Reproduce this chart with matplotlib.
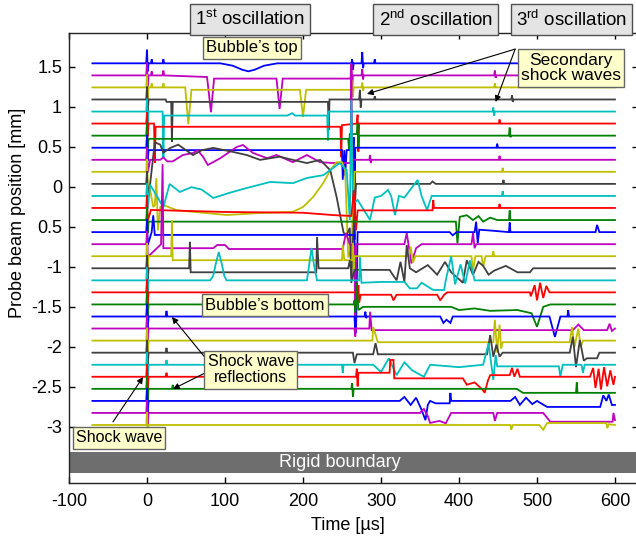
import matplotlib
matplotlib.use("Agg")
import matplotlib.pyplot as plt

plt.rcParams["font.family"] = ["Liberation Sans", "DejaVu Sans"]
plt.rcParams["mathtext.default"] = "regular"
plt.rcParams["axes.unicode_minus"] = False

# baseline of each probe beam [mm], top to bottom
BASE = [1.542, 1.391, 1.241, 1.090, 0.939, 0.789, 0.638, 0.487, 0.336, 0.186,
        0.035, -0.116, -0.266, -0.417, -0.568, -0.719, -0.869, -1.020, -1.171,
        -1.321, -1.472, -1.623, -1.773, -1.924, -2.075, -2.226, -2.376, -2.527,
        -2.678, -2.828, -2.979]
COLORS = ["#0000ff", "#bf00bf", "#bfbf00", "#404040", "#00bfbf", "#ff0000", "#008000"]

# (time [us], deflection from baseline [mm])
T00 = [(-70, 0), (-1, 0), (0, .17), (1, -.1), (2, 0), (5, 0), (6, .05), (7, 0), (20, 0), (21, .05), (22, 0),
       (94, 0), (110, -.03), (122, -.08), (130, -.1), (138, -.08), (150, -.03), (167, 0), (262, 0),
       (263, .05), (264, -.08), (265, 0), (275, 0), (276, .14), (277, -.06), (278, 0), (291, 0),
       (292, .05), (293, 0), (600, 0)]
T01 = [(-70, 0), (-1, 0), (0, .16), (1, -.16), (2, 0), (5, 0), (6, .05), (7, 0), (20, 0), (21, .06), (22, 0),
       (77, -.02), (82, -.46), (86, -.04), (166, -.04), (170, -.42), (174, -.04), (261, -.04), (262, .15),
       (263, -.16), (264, 0), (275, 0), (276, .08), (277, -.05), (278, 0), (445, 0), (446, .06),
       (447, -.03), (448, 0), (600, 0)]
T02 = [(-70, 0), (-1, 0), (0, .16), (1, -.16), (2, 0), (5, 0), (6, .05), (7, 0), (20, 0), (21, .05), (22, 0),
       (49, 0), (53, -.46), (57, -.03), (196, -.03), (200, -.37), (204, -.03), (262, -.03), (263, .09),
       (264, -.12), (265, 0), (275, 0), (276, .06), (277, -.04), (278, 0), (445, 0), (446, .05),
       (447, 0), (600, 0)]
T03 = [(-70, 0), (-1, 0), (0, .16), (1, -.16), (2, 0), (24, 0), (25, -.03), (31, -.03), (32, -.53),
       (33, -.03), (232, -.03), (233, -.38), (234, 0), (272, 0), (273, .12), (274, -.1), (275, 0),
       (291, 0), (292, .04), (293, 0), (467, 0), (468, .05), (469, -.03), (470, 0), (600, 0)]
T04 = [(-70, 0), (-1, 0), (0, .16), (1, -.16), (2, 0), (20, 0), (21, -.58), (22, -.05), (180, -.05),
       (186, -.02), (190, -.05), (231, -.05), (232, -.36), (233, 0), (443, 0), (444, .05), (445, -.05),
       (446, 0), (600, 0)]
T05 = [(-70, 0), (-1, 0), (0, .14), (1, -.16), (2, 0), (9, 0), (10, -.49), (11, -.04), (248, -.04),
       (249, -.42), (250, -.02), (269, 0), (270, .11), (271, -.35), (272, 0), (451, 0), (452, .05),
       (453, 0), (600, 0)]
T06 = [(-70, 0), (-1, 0), (0, .16), (1, -.16), (2, -.04), (258, -.04), (259, -.18), (260, .02),
       (269, .02), (270, .15), (271, -.14), (272, 0), (464, 0), (465, .1), (466, -.02), (467, 0), (600, 0)]
T07 = [(-70, 0), (-1, 0), (0, .16), (1, -.16), (2, -.03), (250, -.03), (251, -.4), (253, -.03),
       (254, -.35), (256, -.03), (264, -.03), (265, .13), (266, -1.15), (267, 0), (448, 0), (449, .05),
       (450, 0), (600, 0)]
T08 = [(-70, 0), (-1, 0), (0, .16), (1, -.16), (4, 0), (17, 0), (21, .03), (26, -.02), (33, -.02),
       (46, .06), (59, .085), (65, .12), (72, .035), (78, -.065), (94, .02), (115, .16), (123, .185),
       (136, .085), (154, .02), (166, .06), (187, -.03), (205, .06), (222, -.03), (238, -.04), (261, -.04),
       (262, 1.2), (263, 0), (285, 0), (286, .06), (287, -.04), (288, 0), (451, 0), (452, .05), (453, 0),
       (600, 0)]
T09 = [(-70, 0), (-1, 0), (0, .16), (1, -.16), (4, -.23), (8, -.44), (10, -.42), (12, -.08), (14, -.73),
       (17, -.44), (21, -.415), (38, -.48), (59, -.5), (102, -.54), (145, -.515), (187, -.5), (200, -.44),
       (213, -.315), (226, -.14), (235, .02), (243, .12), (250, .12), (254, .02), (258, -1.07),
       (262, -.97), (266, 0), (455, 0), (456, .05), (457, 0), (600, 0)]
T10 = [(-70, 0), (-1, 0), (0, .16), (1, -.16), (4, 0), (10, .52), (17, .49), (21, .39), (30, .45),
       (40, .49), (59, .36), (70, .42), (85, .45), (110, .4), (128, .36), (145, .3), (170, .34), (187, .3),
       (205, .26), (222, .3), (235, .17), (243, -.16), (252, -.61), (256, -.64), (260, -.55), (262, -1.24),
       (264, -.7), (268, 0), (363, 0), (366, .03), (370, 0), (456, 0), (457, .05), (458, 0), (600, 0)]
T11 = [(-70, 0), (-1, 0), (0, .16), (1, -.16), (4, .14), (21, -.14), (29, .15), (42, .05), (57, .11),
       (70, .08), (85, -.025), (106, .04), (128, .1), (158, .175), (187, .16), (205, .225), (226, .26),
       (247, .41), (256, .325), (260, -.3), (262, 1.2), (264, -.1), (270, -.05), (286, -.3), (292, -.02),
       (300, 0), (309, .075), (313, 0), (318, -.24), (323, 0), (330, -.02), (347, .2), (352, 0),
       (359, -.175), (365, 0), (455, 0), (456, .06), (457, 0), (600, 0)]
T12 = [(-70, 0), (-1, 0), (0, .16), (1, -.16), (5, -.025), (100, -.05), (200, -.06), (240, -.09),
       (262, -.1), (265, .22), (268, -.28), (270, -.03), (366, -.03), (367, .1), (368, 0), (451, 0),
       (452, .05), (453, 0), (600, 0)]
T13 = [(-70, 0), (-1, 0), (0, .16), (1, -.16), (2, -.02), (396, -.02), (398, -.29), (401, .04),
       (410, .06), (418, 0), (425, .05), (431, -.02), (440, .03), (449, 0), (464, 0), (465, .12),
       (466, 0), (600, 0)]
T14 = [(-70, 0), (-1, 0), (0, .16), (1, -.16), (6, 0), (8, .21), (10, -.035), (266, -.035), (268, -1.26),
       (270, 0), (388, 0), (392, -.04), (397, 0), (420, 0), (422, .13), (424, -.14), (426, .03),
       (440, .02), (464, 0), (465, .12), (466, 0), (575, 0), (577, .09), (580, 0), (600, 0)]
T15 = [(-70, 0), (-1, 0), (0, .16), (1, -.16), (18, 0), (20, 1.0), (21, -.05), (85, -.05), (90, -.01),
       (100, -.01), (105, -.06), (251, -.06), (255, .14), (260, 0), (266, -.03), (267, -1.07), (268, 0),
       (330, 0), (333, .14), (339, -.24), (345, -.05), (352, 0), (416, 0), (418, .14), (420, -.05),
       (422, 0), (600, 0)]
T16 = [(-70, 0), (-1, 0), (0, .16), (1, -.16), (2, 0), (31, 0), (32, .45), (33, -.05), (250, -.05),
       (251, .14), (253, -.05), (263, -.05), (264, .16), (265, -.17), (266, 0), (336, 0), (338, .12),
       (341, -.08), (344, 0), (416, 0), (418, -.17), (421, 0), (429, 0), (431, -.13), (434, 0),
       (443, 0), (444, .06), (445, 0), (600, 0)]
T17 = [(-70, 0), (-1, 0), (0, .16), (1, -.16), (2, 0), (54, 0), (55, .33), (56, -.05), (217, -.05),
       (218, .39), (220, 0), (258, 0), (260, .1), (263, -.15), (266, -.02), (311, -.02), (315, -.08),
       (320, -.15), (325, .08), (330, -.17), (333, .29), (337, 0), (345, -.05), (360, .04), (372, -.08),
       (382, .08), (390, -.05), (405, -.18), (410, .1), (418, -.08), (425, .08), (431, .03), (438, -.08),
       (445, -.03), (460, .03), (475, -.05), (491, -.05), (495, 0), (600, 0)]
T18 = [(-70, 0), (-1, 0), (0, .16), (1, -.16), (2, 0), (81, 0), (85, .06), (88, .2), (92, .355),
       (96, .2), (99, .06), (102, 0), (205, 0), (208, .2), (211, .405), (214, .2), (218, 0), (272, 0),
       (273, .29), (275, -.03), (300, -.02), (330, -.02), (337, -.1), (346, -.1), (352, -.03),
       (367, -.12), (381, -.12), (383, 0), (390, .3), (395, -.05), (402, .2), (408, -.04), (414, .25),
       (420, 0), (600, 0)]
T19 = [(-70, 0), (-1, 0), (0, .16), (1, -.16), (2, 0), (270, 0), (271, .09), (272, -.13), (274, -.03),
       (313, -.03), (316, -.1), (320, -.03), (372, -.03), (376, -.1), (381, -.03), (385, 0), (491, 0),
       (492, -.05), (494, 0), (497, .09), (500, -.1), (504, .12), (508, -.07), (512, .08), (516, 0),
       (600, 0)]
T20 = [(-70, 0), (-1, 0), (0, .16), (1, -.16), (2, 0), (265, 0), (266, .05), (267, -.1), (268, 0),
       (269, .27), (271, -.07), (277, -.03), (390, -.03), (400, -.07), (420, -.05), (440, -.08),
       (475, -.07), (493, -.11), (500, -.28), (508, -.03), (517, 0), (600, 0)]
T21 = [(-70, 0), (-1, 0), (0, .16), (1, -.16), (2, 0), (24, 0), (25, .07), (26, 0), (266, 0), (267, -.2),
       (268, 0), (279, 0), (280, .06), (281, -.02), (282, 0), (376, 0), (380, -.08), (384, -.04),
       (389, -.08), (392, 0), (516, 0), (523, -.255), (530, 0), (539, 0), (540, .08), (541, 0), (600, 0)]
T22 = [(-70, 0), (-1, 0), (0, .16), (1, -.16), (2, 0), (266, 0), (267, -.1), (268, 0), (285, 0),
       (286, .21), (288, -.02), (546, -.02), (553, .05), (560, -.02), (590, -.02), (593, .06),
       (596, -.03), (600, 0)]
T23 = [(-70, 0), (-1, 0), (0, .16), (1, -.16), (2, 0), (289, 0), (290, .17), (296, -.02), (444, -.02),
       (446, .26), (449, -.15), (452, .2), (454, -.1), (456, -.02), (542, -.02), (545, .17), (548, -.08),
       (553, .15), (556, -.08), (559, 0), (600, 0)]
T24 = [(-70, 0), (-1, 0), (0, .16), (1, -.16), (2, 0), (24, 0), (25, .06), (26, 0), (264, 0),
       (266, -.13), (269, -.02), (290, -.02), (293, .12), (296, -.02), (436, -.02), (440, .22),
       (444, -.05), (448, .1), (452, -.05), (456, 0), (542, 0), (546, .2), (550, -.18), (555, .16),
       (560, -.1), (564, -.07), (577, -.07), (580, 0), (600, 0)]
T25 = [(-70, 0), (-1, 0), (0, .16), (1, -.16), (2, 0), (24, 0), (25, .06), (26, 0), (250, 0), (251, -.1),
       (252, 0), (290, 0), (300, -.09), (310, .08), (320, -.13), (330, .03), (340, -.07), (355, -.15),
       (363, 0), (400, -.03), (431, 0), (438, .27), (444, -.19), (447, .12), (449, -.02), (528, -.02),
       (530, -.15), (533, 0), (557, 0), (559, -.1), (561, 0), (600, 0)]
T26 = [(-70, 0), (-1, 0), (0, .16), (1, -.16), (2, 0), (24, 0), (25, .05), (26, 0), (268, 0), (269, .1),
       (270, -.12), (271, .05), (311, .05), (312, .21), (316, .21), (317, -.02), (405, -.02), (410, -.1),
       (420, -.07), (430, -.16), (433, -.2), (437, -.05), (440, .02), (465, .02), (468, .11), (471, 0),
       (475, .1), (478, 0), (568, 0), (572, .11), (575, -.14), (579, .1), (582, -.16), (586, .12),
       (590, -.12), (594, .08), (598, -.1), (600, 0)]
T27 = [(-70, 0), (-1, 0), (0, .16), (1, -.16), (2, 0), (32, 0), (33, .05), (34, 0), (262, 0), (263, .07),
       (264, -.1), (265, 0), (474, 0), (482, -.05), (550, -.05), (551, .08), (552, -.05), (600, -.05)]
T28 = [(-70, 0), (-1, 0), (0, .16), (1, -.16), (2, 0), (324, 0), (330, .05), (338, -.05), (345, .04),
       (352, -.11), (357, -.24), (360, -.05), (363, 0), (370, -.03), (388, -.03), (389, .1), (390, 0),
       (466, 0), (472, .05), (478, -.05), (486, .04), (494, -.04), (500, 0), (513, -.075), (581, -.075),
       (585, .07), (589, 0), (592, .08), (596, -.05), (600, -.05)]
T29 = [(-70, 0), (-1, 0), (0, .16), (1, -.16), (2, 0), (350, 0), (355, .05), (360, -.04), (363, -.125),
       (375, -.1), (383, -.13), (390, 0), (444, 0), (446, -.1), (449, 0), (508, 0), (517, -.11),
       (597, -.11), (598, 0), (600, -.09)]
T30 = [(-70, 0), (-1, 0), (0, .16), (1, -.16), (2, 0), (466, 0), (467, -.06), (469, 0), (503, 0),
       (508, -.06), (513, .025), (589, .025), (590, -.04), (592, .01), (600, 0)]

TRACES = [T00, T01, T02, T03, T04, T05, T06, T07, T08, T09, T10, T11, T12, T13, T14, T15,
          T16, T17, T18, T19, T20, T21, T22, T23, T24, T25, T26, T27, T28, T29, T30]

X_TICKS = [-100, 0, 100, 200, 300, 400, 500, 600]
Y_TICKS = [1.5, 1, 0.5, 0, -0.5, -1, -1.5, -2, -2.5, -3]
Y_TICKLABELS = ["1.5", "1", "0.5", "0", "0.5", "-1", "-1.5", "-2", "-2.5", "-3"]

fig = plt.figure(figsize=(6.36, 5.37), dpi=100)
ax = fig.add_axes([69 / 636, 54 / 537, (638 - 69) / 636, 450 / 537])

for i, (trace, base) in enumerate(zip(TRACES, BASE)):
    t = [p[0] for p in trace]
    y = [base + p[1] for p in trace]
    ax.plot(t, y, color=COLORS[i % 7], lw=1.3, solid_joinstyle="miter")

ax.axhspan(-3.579, -3.316, color="#6e6e6e", lw=0)
ax.text(247, -3.447, "Rigid boundary", color="white", fontsize=13, ha="center", va="center")

ax.set_xlim(-100, 629.5)
ax.set_ylim(-3.704, 1.921)
ax.set_xticks(X_TICKS)
ax.set_xticklabels([str(v) for v in X_TICKS])
ax.set_yticks(Y_TICKS)
ax.set_yticklabels(Y_TICKLABELS)
ax.tick_params(direction="in", top=True, right=True, length=4, width=1, labelsize=13)
ax.tick_params(axis="y", pad=5)
ax.tick_params(axis="x", pad=7)
for s in ax.spines.values():
    s.set_linewidth(1.0)
    s.set_color("#222222")

ax.set_xlabel("Time [µs]", fontsize=13)
ax.set_ylabel("Probe beam position [mm]", fontsize=13)
ax.xaxis.set_label_coords(0.49, -0.075)
ax.yaxis.set_label_coords(-0.075, 0.6)

# oscillation headers above the frame
grey = dict(boxstyle="square,pad=0.28", fc="#e4e4e4", ec="#505050", lw=1)
for x, txt in [(132, "1$^{st}$ oscillation"), (370, "2$^{nd}$ oscillation"),
               (544, "3$^{rd}$ oscillation")]:
    ax.text(x, 2.09, txt, fontsize=13.5, ha="center", va="center", bbox=grey, clip_on=False)

# annotations
yel = dict(boxstyle="square,pad=0.2", fc="#ffffcc", ec="#666666", lw=1)
arrow = dict(arrowstyle="-|>", color="black", lw=0.8, mutation_scale=9, shrinkA=0, shrinkB=0)
ax.text(134.6, 1.734, "Bubble’s top", fontsize=12, ha="center", va="center", bbox=yel)
ax.text(151, -1.479, "Bubble’s bottom", fontsize=12, ha="center", va="center", bbox=yel)
ax.annotate("", xy=(282, 1.159), xytext=(472, 1.72), arrowprops=arrow)
ax.annotate("", xy=(447, 1.059), xytext=(472, 1.72), arrowprops=arrow)
ax.text(543.6, 1.484, "Secondary\nshock waves", fontsize=12.5, ha="center", va="center",
        bbox=yel, linespacing=1.05)
ax.annotate("", xy=(32, -1.629), xytext=(77, -2.166), arrowprops=arrow)
ax.annotate("", xy=(33.3, -2.529), xytext=(77, -2.316), arrowprops=arrow)
ax.text(133, -2.29, "Shock wave\nreflections", fontsize=11.5, ha="center", va="center",
        bbox=yel, linespacing=1.1)
ax.annotate("", xy=(-5.1, -2.38), xytext=(-43.6, -2.94), arrowprops=arrow)
ax.text(-36, -3.14, "Shock wave", fontsize=11.5, ha="center", va="center", bbox=yel)

fig.savefig("out.png", dpi=100)
